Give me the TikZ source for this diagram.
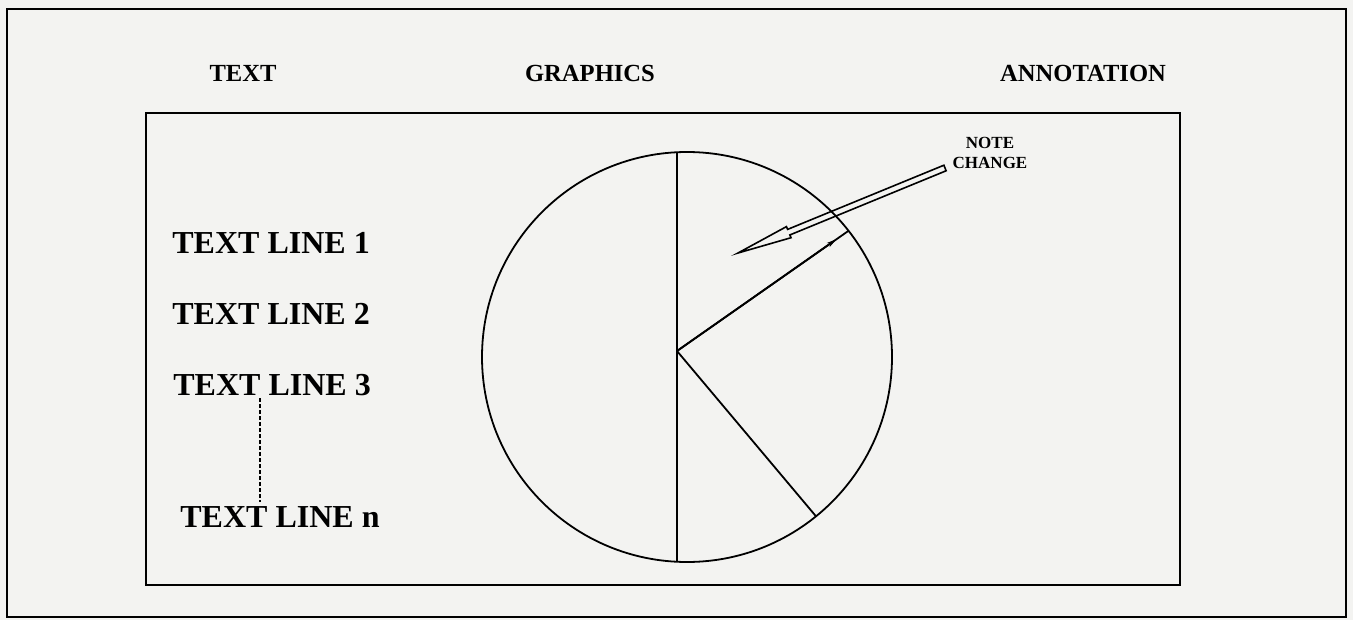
\documentclass[tikz,border=0pt]{standalone}
\usepackage{fontspec}
\setmainfont{Liberation Serif}
\usetikzlibrary{calc,arrows.meta}
\definecolor{paper}{RGB}{243,243,241}
\begin{document}
\begin{tikzpicture}[x=0.5pt,y=-0.5pt,
  header/.style={font=\fontsize{12.3}{14}\selectfont\bfseries, anchor=base, inner sep=0pt},
  tline/.style={font=\fontsize{16}{18}\selectfont\bfseries, anchor=base west, inner sep=0pt},
  frame/.style={draw=black, line width=1.3pt},
  pieline/.style={draw=black, line width=0.9pt},
  hollow/.style={draw=black, line width=0.8pt, line join=miter}]
\fill[paper] (0,0) rectangle (1353,620);
\useasboundingbox (0,0) rectangle (1353,620);
% frames
\draw[frame, line width=1.4pt] (7,9) rectangle (1346,617);
\draw[frame, line width=1.2pt] (146,113) rectangle (1180,585);
% headers
\node[header] (hText) at (243,82) {TEXT};
\node[header] (hGraph) at (590,82) {GRAPHICS};
\node[header] (hAnn) at (1083,82) {ANNOTATION};
% text lines
\node[tline] (l1) at (172,253) {TEXT LINE 1};
\node[tline] (l2) at (172,324) {TEXT LINE 2};
\node[tline] (l3) at (173,395) {TEXT LINE 3};
\node[tline] (ln) at (180,527) {TEXT LINE n};
\coordinate (d1) at (260,398);
\coordinate (d2) at (260,502);
\draw[line width=0.7pt, dash pattern=on 2pt off 1pt] (d1) -- (d2);
% pie
\node[circle, draw=black, line width=0.9pt, minimum size=205pt, inner sep=0pt, outer sep=0pt] (pie) at (687,357) {};
\coordinate (v) at (677,351);
\coordinate (vt) at (677,152.2);
\coordinate (vb) at (677,561.8);
\draw[pieline] (vt) -- (vb);
\draw[pieline] (v) -- (pie.38.3);
\draw[pieline] (v) -- (pie.-51);
\draw[line width=0.9pt, -{Stealth[length=5pt,width=2.4pt]}] (v) -- ($(v)!0.93!(pie.38.3)$);
% annotation
\node[font=\fontsize{8.5}{10}\selectfont\bfseries, align=center, inner sep=0pt] (note) at (990,153) {NOTE\\CHANGE};
\coordinate (at) at (945,168);
\coordinate (ah) at (738,253);
\coordinate (hb) at ($(ah)!0.245!(at)$);
\draw[hollow] ($(at)!1.5pt!90:(ah)$) -- ($(hb)!1.5pt!-90:(at)$) -- ($(hb)!3pt!-90:(at)$) -- (ah)
  -- ($(hb)!3pt!90:(at)$) -- ($(hb)!1.5pt!90:(at)$) -- ($(at)!1.5pt!-90:(ah)$) -- cycle;
\end{tikzpicture}
\end{document}
